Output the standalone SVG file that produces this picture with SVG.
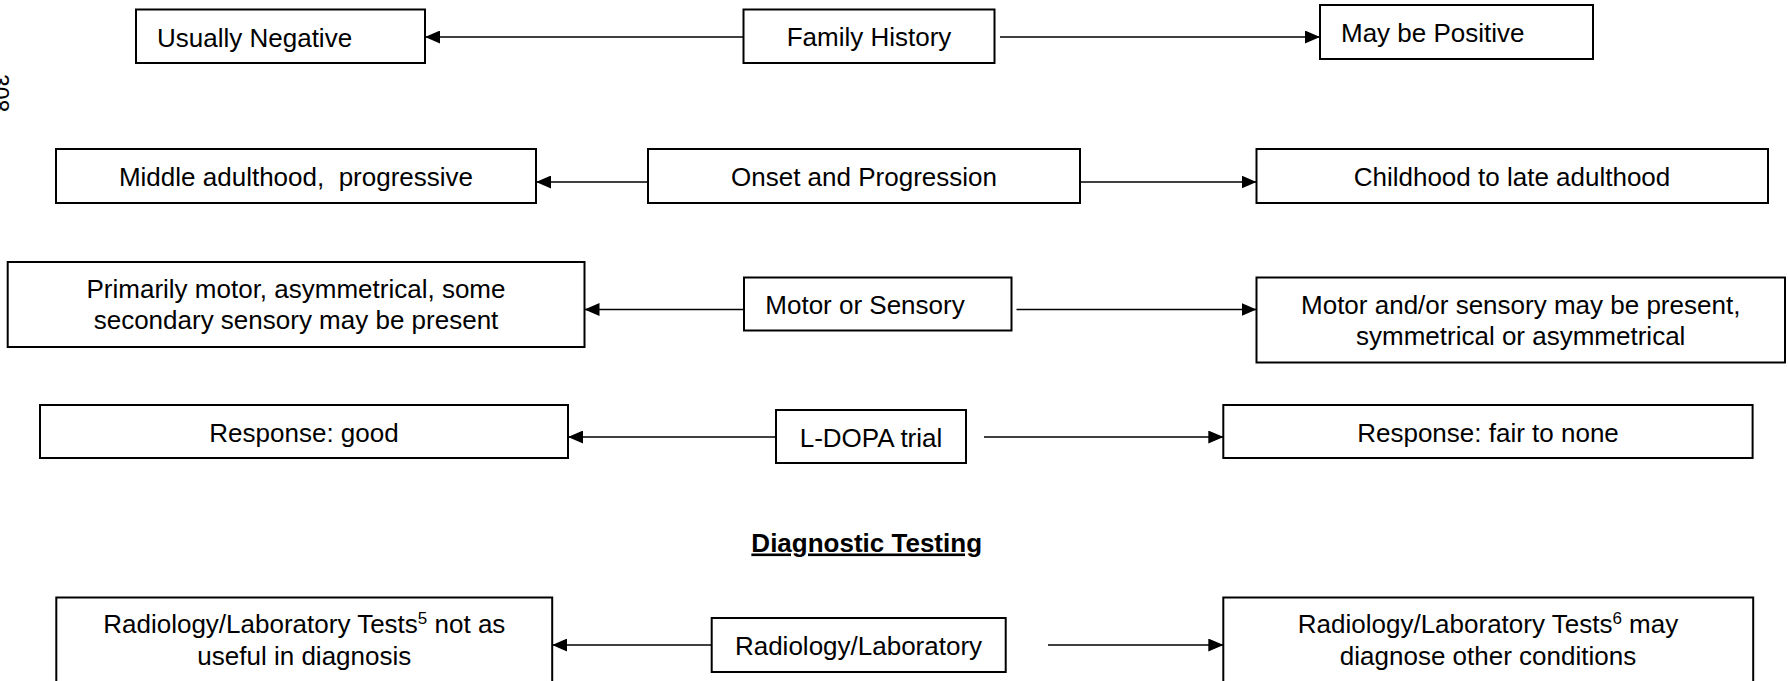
<svg xmlns="http://www.w3.org/2000/svg" width="1788" height="681" viewBox="0 0 1788 681">
<style>
.box{fill:#fff;stroke:#000;stroke-width:2}
.t{font-family:"Liberation Sans",Arial,sans-serif;font-size:26px;fill:#000}
.c{text-anchor:middle}
.b{font-weight:bold;text-decoration:underline}
.ln{stroke:#000;stroke-width:1.6;fill:none;marker-end:url(#ah)}
</style>
<defs>
<marker id="ah" markerUnits="userSpaceOnUse" markerWidth="15" markerHeight="13" refX="15" refY="6.5" orient="auto">
<path d="M0,0 L15,6.5 L0,13 z" fill="#000"/>
</marker>
</defs>
<rect width="1788" height="681" fill="#fff"/>
<g id="pagenum"><text class="t" style="font-size:23px" transform="translate(-8,74) rotate(90)">308</text></g>
<g id="connectors">
<line class="ln" x1="743" y1="37" x2="425" y2="37"/>
<line class="ln" x1="1000" y1="37" x2="1320" y2="37"/>
<line class="ln" x1="648" y1="182" x2="536" y2="182"/>
<line class="ln" x1="1080" y1="182" x2="1256.5" y2="182"/>
<line class="ln" x1="744" y1="309.5" x2="584.5" y2="309.5"/>
<line class="ln" x1="1016.5" y1="309.5" x2="1256.5" y2="309.5"/>
<line class="ln" x1="776" y1="437" x2="568" y2="437"/>
<line class="ln" x1="984" y1="437" x2="1223.3" y2="437"/>
<line class="ln" x1="711.7" y1="645" x2="552.2" y2="645"/>
<line class="ln" x1="1048" y1="645" x2="1223.3" y2="645"/>
</g>
<g id="usually-negative"><rect class="box" x="136" y="9.5" width="289" height="53.5"/><text class="t" x="157" y="47">Usually Negative</text></g>
<g id="family-history"><rect class="box" x="743.5" y="9.5" width="251" height="53.5"/><text class="t c" x="869" y="46">Family History</text></g>
<g id="may-be-positive"><rect class="box" x="1320" y="5" width="273" height="54"/><text class="t" x="1341" y="42">May be Positive</text></g>
<g id="middle-adulthood"><rect class="box" x="56" y="149" width="480" height="54"/><text class="t c" x="296" y="186" xml:space="preserve">Middle adulthood,  progressive</text></g>
<g id="onset"><rect class="box" x="648" y="149" width="432" height="54"/><text class="t c" x="864" y="186">Onset and Progression</text></g>
<g id="childhood"><rect class="box" x="1256.5" y="149" width="511.5" height="54"/><text class="t c" x="1512" y="186">Childhood to late adulthood</text></g>
<g id="primarily-motor"><rect class="box" x="7.7" y="262" width="576.8" height="85"/><text class="t c"><tspan x="296" y="298">Primarily motor, asymmetrical, some</tspan><tspan x="296" y="329">secondary sensory may be present</tspan></text></g>
<g id="motor-or-sensory"><rect class="box" x="744" y="277.5" width="267.5" height="53"/><text class="t" x="765.3" y="314">Motor or Sensory</text></g>
<g id="motor-and-or"><rect class="box" x="1256.5" y="277.5" width="528.5" height="85"/><text class="t c"><tspan x="1520.7" y="314">Motor and/or sensory may be present,</tspan><tspan x="1520.7" y="345">symmetrical or asymmetrical</tspan></text></g>
<g id="response-good"><rect class="box" x="40" y="405" width="528" height="53"/><text class="t c" x="304" y="441.5">Response: good</text></g>
<g id="l-dopa"><rect class="box" x="776" y="410" width="190" height="53"/><text class="t c" x="871" y="446.5">L-DOPA trial</text></g>
<g id="response-fair"><rect class="box" x="1223.3" y="405" width="529.3" height="53"/><text class="t c" x="1488" y="441.5">Response: fair to none</text></g>
<g id="diagnostic-testing"><text class="t c b" x="866.7" y="551.5">Diagnostic Testing</text></g>
<g id="tests-not-useful"><rect class="box" x="56.3" y="597.5" width="495.9" height="95"/><text class="t c"><tspan x="304.3" y="633.3">Radiology/Laboratory Tests<tspan style="font-size:17px" dy="-9">5</tspan><tspan dy="9"> not as</tspan></tspan><tspan x="304.3" y="665">useful in diagnosis</tspan></text></g>
<g id="radiology-laboratory"><rect class="box" x="711.7" y="618" width="294" height="54"/><text class="t c" x="858.5" y="655">Radiology/Laboratory</text></g>
<g id="tests-other"><rect class="box" x="1223.3" y="597.5" width="529.9" height="95"/><text class="t c"><tspan x="1488" y="633.3">Radiology/Laboratory Tests<tspan style="font-size:17px" dy="-9">6</tspan><tspan dy="9"> may</tspan></tspan><tspan x="1488" y="665">diagnose other conditions</tspan></text></g>
</svg>
